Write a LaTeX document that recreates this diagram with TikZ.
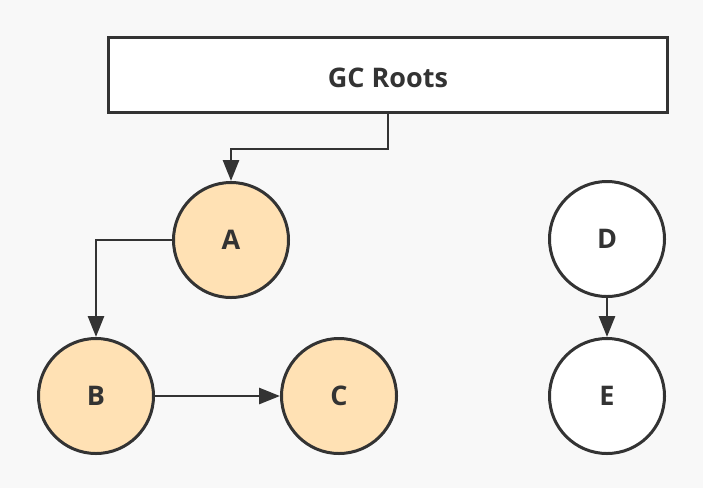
\documentclass[tikz,border=0pt]{standalone}
\usepackage{fontspec}
\setmainfont{Open Sans}
\usetikzlibrary{arrows.meta}
\definecolor{ink}{HTML}{333333}
\definecolor{peach}{HTML}{FFE1B4}
\definecolor{paper}{HTML}{F8F8F8}
\begin{document}
\begin{tikzpicture}[x=1pt,y=-1pt,
  label text/.style={font=\fontsize{27}{30}\selectfont\bfseries,text=ink},
  obj/.style={circle,draw=ink,line width=3pt,minimum size=115pt,inner sep=0pt,label text},
  live/.style={obj,fill=peach},
  dead/.style={obj,fill=white},
  link/.style={draw=ink,line width=2.8pt,-{Triangle[length=21pt,width=16pt]}}]
  \fill[paper] (0,0) rectangle (703,488);
  \useasboundingbox (0,0) rectangle (703,488);
  \node[draw=ink,fill=white,line width=3pt,minimum width=559pt,minimum height=75pt,
    inner sep=0pt,label text] (roots) at (388,75) {};
  \node[label text] at (388,78) {GC Roots};
  \node[live] (A) at (231,240) {\raisebox{-3pt}{A}};
  \node[live] (B) at (96,396) {\raisebox{-3pt}{B}};
  \node[live] (C) at (339,396) {\raisebox{-3pt}{C}};
  \node[dead] (D) at (607,239) {\raisebox{-3pt}{D}};
  \node[dead] (E) at (607,396) {\raisebox{-3pt}{E}};
  \coordinate (r1) at (388,149);
  \coordinate (r2) at (231,149);
  \coordinate (a1) at (96,240);
  \draw[link] (roots.south -| r1) -- (r1) -- (r2) -- (A.north);
  \draw[link] (A.west) -- (a1) -- (B.north);
  \draw[link] (B.east) -- (C.west);
  \draw[link] (D.south) -- (E.north);
\end{tikzpicture}
\end{document}
